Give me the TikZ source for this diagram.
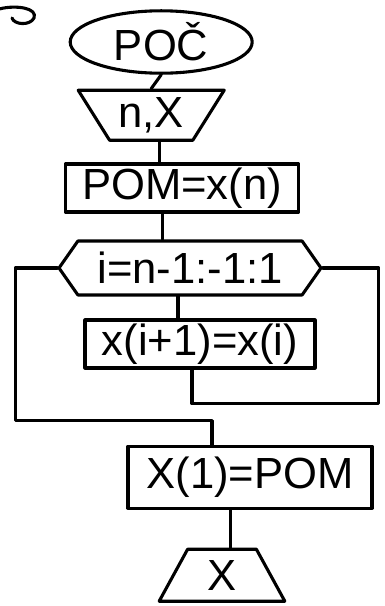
\documentclass[tikz,border=0pt]{standalone}
\usepackage{fontspec}
\setmainfont{Liberation Sans}
\usepackage{tikz}
\usetikzlibrary{positioning,shapes.geometric,shapes.symbols}

\begin{document}
\begin{tikzpicture}[line width=2.2pt, line cap=round, line join=round,
    every node/.style={draw, font=\fontsize{31}{33}\selectfont, inner sep=2pt},
    terminal/.style={ellipse, minimum width=4.55cm, minimum height=1.45cm},
    ioin/.style={trapezium, trapezium stretches=true, shape border rotate=180,
        trapezium left angle=57, trapezium right angle=57, minimum width=3.68cm, minimum height=1.25cm},
    ioout/.style={trapezium, trapezium stretches=true,
        trapezium left angle=68, trapezium right angle=68, minimum width=3.15cm, minimum height=1.3cm},
    procbox/.style={rectangle, minimum height=1.2cm},
    loophex/.style={signal, signal to=west and east, signal pointer angle=110,
        minimum width=6.55cm, minimum height=1.35cm}]
    \useasboundingbox (0,0) rectangle (9.625,-15.15);

    \node[terminal] (start) at (4.03,-1.05) {POČ};
    \node[ioin] (input) at (3.78,-2.88) {n,X};
    \node[procbox, minimum width=5.83cm] (pom) at (4.55,-4.7) {POM=x(n)};
    \node[loophex] (loop) at (4.75,-6.7) {i=n-1:-1:1};
    \node[procbox, minimum width=5.75cm] (body) at (5.0,-8.6) {x(i+1)=x(i)};
    \node[procbox, minimum width=6.1cm, minimum height=1.55cm] (first) at (6.25,-11.93) {X(1)=POM};
    \node[ioout] (output) at (5.55,-14.38) {X};

    \draw (start.south) -- (input.north);
    \draw ([xshift=0.2cm]input.south) -- ([xshift=0.2cm]input.south |- pom.north);
    \draw ([xshift=-0.48cm]pom.south) -- ([xshift=-0.48cm]pom.south |- loop.north);
    \draw ([xshift=-0.3cm]loop.south) -- ([xshift=-0.3cm]loop.south |- body.north);
    % loop back and loop exit
    \draw ([xshift=-0.2cm]body.south) -- ++(0,-0.85) -| ([xshift=1.4cm]loop.east) -- (loop.east);
    \draw (loop.west) -- ++(-1.05,0) |- ([xshift=-0.95cm,yshift=0.6cm]first.north) -- ([xshift=-0.95cm]first.north);
    \draw ([xshift=0.22cm]output.north |- first.south) -- ([xshift=0.22cm]output.north);

    % mark in the corner
    \draw (0,-0.22) .. controls (0.4,-0.12) and (0.95,-0.2) .. (0.85,-0.45)
        .. controls (0.75,-0.65) and (0.35,-0.62) .. (0.3,-0.45);
\end{tikzpicture}
\end{document}
